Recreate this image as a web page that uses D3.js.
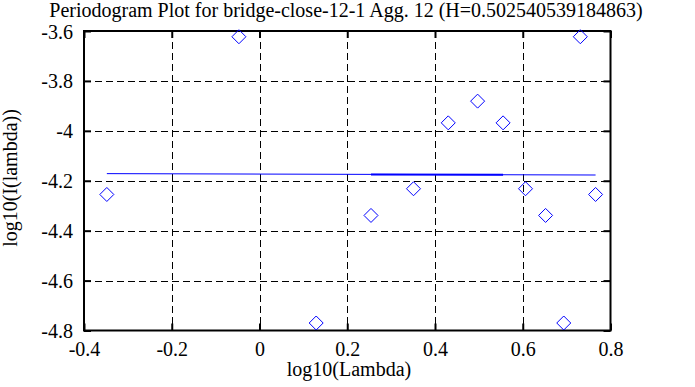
<!DOCTYPE html>
<html>
<head>
<meta charset="utf-8">
<script src="https://cdn.jsdelivr.net/npm/d3@7"></script>
<style>
  body { margin: 0; background: #fff; }
  svg { display: block; }
</style>
</head>
<body>
<div id="chart"></div>
<script>
// log10(lambda) of each periodogram point
const logLambda = [-0.34795, -0.04692, 0.12917, 0.25411, 0.35102, 0.43021, 0.49715,
                   0.55514, 0.60630, 0.65205, 0.69344, 0.73123, 0.76600];
// log10(I(lambda))
const logI = [-4.255, -3.623, -4.770, -4.339, -4.232, -3.968, -3.881,
              -3.968, -4.232, -4.339, -4.770, -3.623, -4.255];
// least squares fit, value at first and last point
const fitY = [-4.1715, -4.1770];
// second, overlapping fit segment (points 4..8)
const fitSegIdx = [3, 7];

const xTicks = [-0.4, -0.2, 0, 0.2, 0.4, 0.6, 0.8];
const yTicks = [-3.6, -3.8, -4, -4.2, -4.4, -4.6, -4.8];

const titleText = 'Periodogram Plot for bridge-close-12-1 Agg. 12 (H=0.502540539184863)';

const W = 695, H = 387;
const margin = {top: 31, right: 84.5, bottom: 56.5, left: 84};
const width = W - margin.left - margin.right,
      height = H - margin.top - margin.bottom;
const fontSize = '20px';
const serif = "'Liberation Serif', 'Times New Roman', Times, 'DejaVu Serif', serif";

const svg = d3.select('#chart').append('svg')
  .attr('width', W)
  .attr('height', H)
  .attr('font-family', serif)
  .style('font-family', serif);

const g = svg.append('g')
  .attr('transform', `translate(${margin.left}, ${margin.top})`);

const xScale = d3.scaleLinear().domain([-0.4, 0.8]).range([0, width]);
const yScale = d3.scaleLinear().domain([-4.8, -3.6]).range([height, 0]);

// grid
g.append('g').selectAll('line')
  .data(xTicks.slice(1, -1))
  .join('line')
  .attr('x1', d => Math.round(xScale(d)) + 0.5)
  .attr('x2', d => Math.round(xScale(d)) + 0.5)
  .attr('y1', 0).attr('y2', height)
  .attr('stroke', '#000').attr('stroke-width', 1)
  .attr('stroke-dasharray', '7,4');

g.append('g').selectAll('line')
  .data(yTicks.slice(1, -1))
  .join('line')
  .attr('y1', d => Math.round(yScale(d)) + 0.5)
  .attr('y2', d => Math.round(yScale(d)) + 0.5)
  .attr('x1', 0).attr('x2', width)
  .attr('stroke', '#000').attr('stroke-width', 1)
  .attr('stroke-dasharray', '7,4');

// axes, ticks pointing inward, mirrored
const tick = 7;
const fmt = d => d3.format('~g')(d).replace('\u2212', '-');
const xAxis = d3.axisBottom(xScale).tickValues(xTicks).tickSize(-tick).tickSizeOuter(0).tickFormat(fmt);
const yAxis = d3.axisLeft(yScale).tickValues(yTicks).tickSize(-tick).tickSizeOuter(0).tickFormat(fmt);

const xAxisGroup = g.append('g')
  .attr('transform', `translate(0, ${height})`)
  .call(xAxis);
xAxisGroup.selectAll('text').attr('y', 0).attr('dy', 25);

const yAxisGroup = g.append('g').call(yAxis);
yAxisGroup.selectAll('text').attr('x', -11).attr('dy', 7);

g.append('g')
  .call(d3.axisTop(xScale).tickValues(xTicks).tickSize(-tick).tickFormat(''));
g.append('g')
  .attr('transform', `translate(${width}, 0)`)
  .call(d3.axisRight(yScale).tickValues(yTicks).tickSize(-tick).tickFormat(''));

g.selectAll('.domain').remove();
g.selectAll('.tick line').attr('stroke', '#000').attr('stroke-width', 2);
g.selectAll('.tick text')
  .attr('font-family', serif).style('font-family', serif)
  .attr('font-size', fontSize).style('font-size', fontSize)
  .attr('fill', '#000');

// border
g.append('rect')
  .attr('x', 0).attr('y', 0)
  .attr('width', width).attr('height', height)
  .attr('fill', 'none').attr('stroke', '#000').attr('stroke-width', 2);

// fit line
const fitPts = [
  {x: logLambda[0], y: fitY[0]},
  {x: logLambda[logLambda.length - 1], y: fitY[1]}
];
const fitAt = x => fitY[0] + (fitY[1] - fitY[0]) * (x - fitPts[0].x) / (fitPts[1].x - fitPts[0].x);
const line = d3.line().x(d => xScale(d.x)).y(d => yScale(d.y));

g.append('path')
  .datum(fitPts)
  .attr('d', line)
  .attr('fill', 'none').attr('stroke', '#0000ff').attr('stroke-width', 1);

const segPts = fitSegIdx.map(i => ({x: logLambda[i], y: fitAt(logLambda[i])}));
g.append('path')
  .datum(segPts)
  .attr('d', line)
  .attr('fill', 'none').attr('stroke', '#0000ff').attr('stroke-width', 2);

// points (diamonds)
const r = 7;
g.append('g').selectAll('path')
  .data(logLambda.map((x, i) => ({x, y: logI[i]})))
  .join('path')
  .attr('transform', d => `translate(${xScale(d.x)}, ${yScale(d.y)})`)
  .attr('d', `M0,${-r}L${r},0L0,${r}L${-r},0Z`)
  .attr('fill', 'none').attr('stroke', '#0000ff').attr('stroke-width', 1);

// title and labels
function label(x, y, txt, rot) {
  return svg.append('text')
    .attr('transform', `translate(${x}, ${y})` + (rot ? ` rotate(${rot})` : ''))
    .attr('text-anchor', 'middle')
    .attr('font-family', serif).style('font-family', serif)
    .attr('font-size', fontSize)
    .text(txt);
}
label(346, 17, titleText);
label(349, 376, 'log10(Lambda)');
label(17, 178, 'log10(I(lambda))', -90);
</script>
</body>
</html>
